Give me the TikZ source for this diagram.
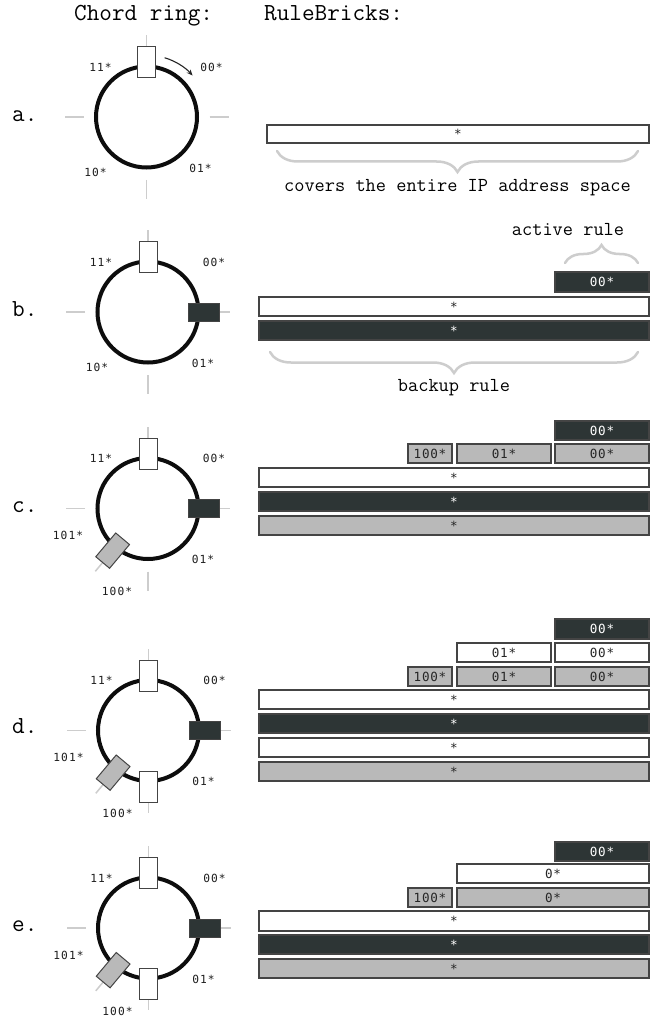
\documentclass[tikz,border=0pt]{standalone}
\usepackage{fontspec}
\newfontfamily\labfont[LetterSpace=10]{DejaVu Sans Mono}
\newfontfamily\brkfont[LetterSpace=6]{DejaVu Sans Mono}
\usetikzlibrary{arrows.meta,decorations.pathreplacing}
\definecolor{darkfill}{RGB}{45,53,53}
\definecolor{brickgray}{RGB}{185,185,185}
\definecolor{bordergray}{RGB}{68,68,68}
\definecolor{tickgray}{RGB}{205,205,205}
\definecolor{labgray}{RGB}{30,30,30}
\tikzset{
  ticklines/.style={draw=tickgray, line width=1.5pt},
  ringline/.style={draw=black!95, line width=4pt},
  slot/.style={draw=bordergray, line width=1pt, minimum width=18pt, minimum height=31pt, inner sep=0pt, outer sep=0pt},
  whiteslot/.style={slot, fill=white},
  darkslot/.style={slot, fill=darkfill},
  grayslot/.style={slot, fill=brickgray},
  rlabel/.style={font=\labfont\fontsize{11.2}{11.2}\selectfont, text=labgray, inner sep=0pt, text height=8.2pt, text depth=0pt},
  brick/.style={draw=bordergray, line width=1.2pt, inner sep=0pt, outer sep=0pt, font=\brkfont\fontsize{12.6}{12.6}\selectfont, text height=9.2pt, text depth=0pt},
  wbrick/.style={brick, fill=white, text=black!85},
  dbrick/.style={brick, fill=darkfill, text=white},
  gbrick/.style={brick, fill=brickgray, text=black!85},
  gbrace/.style={draw=tickgray, line width=2.5pt, line cap=round, decorate, decoration={brace, amplitude=#1}},
  captiontext/.style={font=\ttfamily\fontsize{19.8}{19.8}\selectfont\addfontfeatures{FakeBold=1}, inner sep=0pt, anchor=base},
  headertext/.style={font=\ttfamily\fontsize{24.5}{24.5}\selectfont\addfontfeatures{FakeBold=1}, inner sep=0pt, anchor=base west},
}
% brick: name, x1, y1, x2, y2, style, text
\newcommand\brk[7]{\node[#6, minimum width={#4-#2}, minimum height={#5-#3}] (#1) at ({(#2+#4)/2},{-(#3+#5)/2}) {#7};}
\begin{document}
\begin{tikzpicture}[x=1pt,y=1pt]
\useasboundingbox (0,0) rectangle (653,-1019);
\fill[white] (0,0) rectangle (653,-1019);

% headers
\node[headertext] (h1) at (74,-21) {Chord ring:};
\node[headertext] (h2) at (264,-21) {RuleBricks:};

% panel letters
\node[headertext] (la) at (12,-122) {a.};
\node[headertext] (lb) at (12,-316) {b.};
\node[headertext] (lc) at (12,-512) {c.};
\node[headertext] (ld) at (12,-733) {d.};
\node[headertext] (le) at (12,-931) {e.};

% ===== panel a ring =====
\begin{scope}[shift={(146.5,-117)}]
  \foreach \t in {0,90,180,270} \draw[ticklines] (\t:63) -- (\t:82);
  \node[circle, minimum size=101pt, ringline, inner sep=0pt] (a-ring) at (0,0) {};
  \node[whiteslot] (a-top) at (90:55) {};
  \coordinate (a-as) at (73:62);
  \draw[-{Stealth[length=6pt,width=5pt]}, line width=1.1pt, black!85] (a-as) arc[start angle=73, end angle=42, radius=62];
  \node[rlabel] (a-11) at (-46,50) {11*};
  \node[rlabel] (a-00) at (65,50) {00*};
  \node[rlabel] (a-10) at (-51,-55) {10*};
  \node[rlabel] (a-01) at (54,-51) {01*};
\end{scope}
\brk{a-b1}{267}{125}{649}{143}{wbrick}{*}
\draw[gbrace=21pt] (638,-151) -- (277,-151) coordinate (a-br);
\node[captiontext] (a-cap) at (457.5,-192) {covers the entire IP address space};

% ===== panel b ring =====
\begin{scope}[shift={(148,-312)}]
  \foreach \t in {0,90,180,270} \draw[ticklines] (\t:63) -- (\t:82);
  \node[circle, minimum size=101pt, ringline, inner sep=0pt] (b-ring) at (0,0) {};
  \node[whiteslot] (b-top) at (90:55) {};
  \node[darkslot, rotate=-90] (b-right) at (0:56) {};
  \node[rlabel] (b-11) at (-47,50) {11*};
  \node[rlabel] (b-00) at (66,50) {00*};
  \node[rlabel] (b-10) at (-51,-55) {10*};
  \node[rlabel] (b-01) at (55,-51) {01*};
\end{scope}
\brk{b-b1}{555}{272}{649}{292}{dbrick}{00*}
\brk{b-b2}{259}{297}{649}{316}{wbrick}{*}
\brk{b-b3}{259}{321}{649}{340}{dbrick}{*}
\node[captiontext] (b-act) at (568,-235) {active rule};
\draw[gbrace=18pt] (565,-263) -- (638,-263);
\draw[gbrace=21pt] (638,-352) -- (270,-352);
\node[captiontext] (b-back) at (454,-391) {backup rule};

% ===== panel c ring =====
\begin{scope}[shift={(148,-508.5)}]
  \foreach \t in {0,90,180,230,270} \draw[ticklines] (\t:63) -- (\t:82);
  \node[circle, minimum size=101pt, ringline, inner sep=0pt] (c-ring) at (0,0) {};
  \node[whiteslot] (c-top) at (90:55) {};
  \node[darkslot, rotate=-90] (c-right) at (0:56) {};
  \node[grayslot, rotate=140] (c-gray) at (230:55) {};
  \node[rlabel] (c-11) at (-47,50) {11*};
  \node[rlabel] (c-00) at (66,50) {00*};
  \node[rlabel] (c-101) at (-80,-27) {101*};
  \node[rlabel] (c-01) at (55,-51) {01*};
  \node[rlabel] (c-100) at (-31,-83) {100*};
\end{scope}
\brk{c-b1}{555}{421}{649}{440}{dbrick}{00*}
\brk{c-b2}{408}{444}{452}{463}{gbrick}{100*}
\brk{c-b3}{457}{444}{551}{463}{gbrick}{01*}
\brk{c-b4}{555}{444}{649}{463}{gbrick}{00*}
\brk{c-b5}{259}{468}{649}{487}{wbrick}{*}
\brk{c-b6}{259}{492}{649}{511}{dbrick}{*}
\brk{c-b7}{259}{516}{649}{535}{gbrick}{*}

% ===== panel d ring =====
\begin{scope}[shift={(148.5,-730.5)}]
  \foreach \t in {0,90,180,230,270} \draw[ticklines] (\t:63) -- (\t:82);
  \node[circle, minimum size=101pt, ringline, inner sep=0pt] (d-ring) at (0,0) {};
  \node[whiteslot] (d-top) at (90:55) {};
  \node[darkslot, rotate=-90] (d-right) at (0:56) {};
  \node[whiteslot] (d-bot) at (270:56) {};
  \node[grayslot, rotate=140] (d-gray) at (230:55) {};
  \node[rlabel] (d-11) at (-47,50) {11*};
  \node[rlabel] (d-00) at (66,50) {00*};
  \node[rlabel] (d-101) at (-80,-27) {101*};
  \node[rlabel] (d-01) at (55,-51) {01*};
  \node[rlabel] (d-100) at (-31,-83) {100*};
\end{scope}
\brk{d-b1}{555}{619}{649}{639}{dbrick}{00*}
\brk{d-b2}{457}{643}{551}{662}{wbrick}{01*}
\brk{d-b3}{555}{643}{649}{662}{wbrick}{00*}
\brk{d-b4}{408}{667}{452}{686}{gbrick}{100*}
\brk{d-b5}{457}{667}{551}{686}{gbrick}{01*}
\brk{d-b6}{555}{667}{649}{686}{gbrick}{00*}
\brk{d-b7}{259}{690}{649}{709}{wbrick}{*}
\brk{d-b8}{259}{714}{649}{733}{dbrick}{*}
\brk{d-b9}{259}{738}{649}{757}{wbrick}{*}
\brk{d-b10}{259}{762}{649}{781}{gbrick}{*}

% ===== panel e ring =====
\begin{scope}[shift={(148.5,-928)}]
  \foreach \t in {0,90,180,230,270} \draw[ticklines] (\t:63) -- (\t:82);
  \node[circle, minimum size=101pt, ringline, inner sep=0pt] (e-ring) at (0,0) {};
  \node[whiteslot] (e-top) at (90:55) {};
  \node[darkslot, rotate=-90] (e-right) at (0:56) {};
  \node[whiteslot] (e-bot) at (270:56) {};
  \node[grayslot, rotate=140] (e-gray) at (230:55) {};
  \node[rlabel] (e-11) at (-47,50) {11*};
  \node[rlabel] (e-00) at (66,50) {00*};
  \node[rlabel] (e-101) at (-80,-27) {101*};
  \node[rlabel] (e-01) at (55,-51) {01*};
  \node[rlabel] (e-100) at (-31,-83) {100*};
\end{scope}
\brk{e-b1}{555}{842}{649}{861}{dbrick}{00*}
\brk{e-b2}{457}{864}{649}{883}{wbrick}{0*}
\brk{e-b3}{408}{888}{452}{907}{gbrick}{100*}
\brk{e-b4}{457}{888}{649}{907}{gbrick}{0*}
\brk{e-b5}{259}{911}{649}{931}{wbrick}{*}
\brk{e-b6}{259}{935}{649}{954}{dbrick}{*}
\brk{e-b7}{259}{959}{649}{978}{gbrick}{*}
\end{tikzpicture}
\end{document}
